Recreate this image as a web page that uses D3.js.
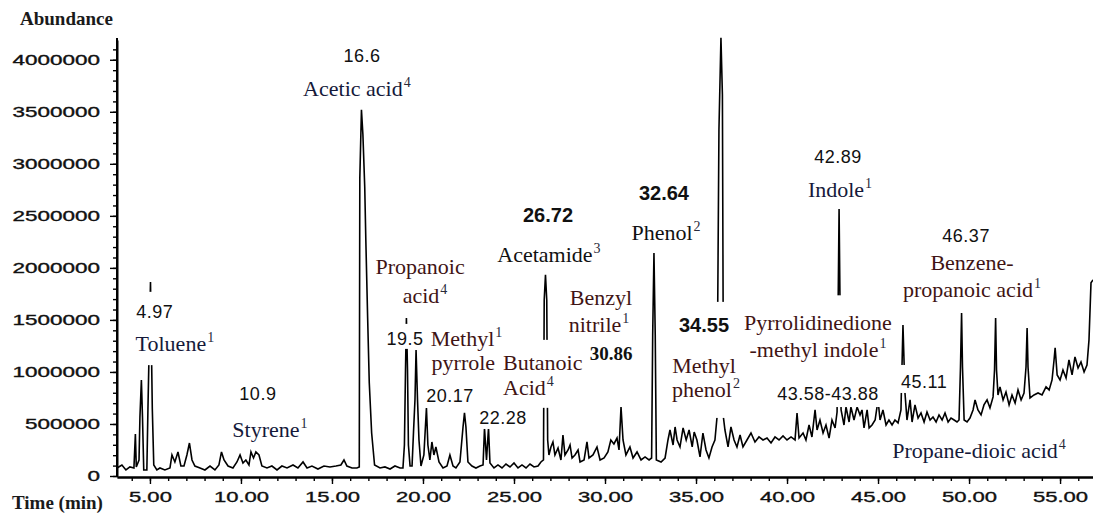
<!DOCTYPE html>
<html>
<head>
<meta charset="utf-8">
<script src="https://cdn.jsdelivr.net/npm/d3@7"></script>
<style>
  body { margin: 0; background: #fff; }
  svg { display: block; }
</style>
</head>
<body>
<div id="chart"></div>
<script>

// retention time (min) and abundance
let timeMin = [
  3.19, 3.46, 3.68, 3.90, 4.12, 4.20, 4.25, 4.40, 4.45, 4.53, 4.59, 4.66, 4.83, 4.89, 5.03, 5.13, 5.21, 5.38,
  5.55, 5.82, 6.10, 6.21, 6.37, 6.54, 6.70, 6.87, 7.03, 7.17, 7.31, 7.47, 7.75, 8.02, 8.30, 8.57, 8.79, 8.93,
  9.07, 9.29, 9.56, 9.78, 9.95, 10.11, 10.27, 10.44, 10.55, 10.69, 10.82, 10.99, 11.15, 11.43, 11.70, 11.98,
  12.25, 12.53, 12.86, 13.13, 13.41, 13.63, 13.90, 14.23, 14.56, 14.89, 15.22, 15.49, 15.66, 15.82, 16.10,
  16.37, 16.50, 16.53, 16.62, 16.70, 16.80, 16.86, 16.96, 17.05, 17.18, 17.34, 17.64, 17.91, 18.19, 18.46,
  18.74, 18.90, 18.98, 19.04, 19.09, 19.15, 19.20, 19.29, 19.40, 19.48, 19.56, 19.62, 19.70, 19.78, 19.89,
  20.05, 20.19, 20.27, 20.38, 20.49, 20.60, 20.71, 20.88, 21.10, 21.32, 21.48, 21.65, 21.81, 22.03, 22.20,
  22.28, 22.36, 22.47, 22.69, 22.91, 23.13, 23.30, 23.38, 23.49, 23.60, 23.68, 23.90, 24.12, 24.34, 24.56,
  24.78, 25.00, 25.22, 25.44, 25.66, 25.88, 26.10, 26.32, 26.48, 26.62, 26.66, 26.73, 26.80, 26.85, 26.92,
  27.03, 27.14, 27.25, 27.42, 27.58, 27.69, 27.80, 27.97, 28.08, 28.19, 28.35, 28.52, 28.63, 28.85, 29.01,
  29.12, 29.34, 29.56, 29.73, 29.95, 30.16, 30.32, 30.49, 30.66, 30.77, 30.88, 30.99, 31.15, 31.37, 31.54,
  31.76, 31.98, 32.20, 32.42, 32.56, 32.62, 32.69, 32.76, 32.82, 33.08, 33.30, 33.46, 33.57, 33.74, 33.85,
  33.96, 34.12, 34.29, 34.46, 34.62, 34.79, 34.90, 35.05, 35.22, 35.38, 35.55, 35.71, 35.88, 36.04, 36.15,
  36.26, 36.37, 36.45, 36.51, 36.59, 36.76, 36.92, 37.09, 37.25, 37.42, 37.58, 37.80, 38.02, 38.24, 38.46,
  38.68, 38.90, 39.12, 39.34, 39.56, 39.78, 40.00, 40.22, 40.44, 40.55, 40.66, 40.88, 41.04, 41.21, 41.37,
  41.54, 41.65, 41.81, 41.98, 42.14, 42.31, 42.47, 42.64, 42.75, 42.86, 42.97, 43.13, 43.24, 43.41, 43.51,
  43.68, 43.85, 44.01, 44.12, 44.23, 44.40, 44.51, 44.67, 44.84, 45.00, 45.11, 45.27, 45.44, 45.60, 45.77,
  45.93, 46.10, 46.26, 46.37, 46.48, 46.59, 46.76, 46.87, 47.03, 47.20, 47.36, 47.53, 47.69, 47.86, 48.02,
  48.19, 48.35, 48.52, 48.68, 48.85, 49.01, 49.18, 49.34, 49.45, 49.53, 49.59, 49.64, 49.73, 49.89, 50.05,
  50.22, 50.33, 50.49, 50.66, 50.82, 50.99, 51.15, 51.32, 51.40, 51.46, 51.51, 51.59, 51.70, 51.87, 52.03,
  52.20, 52.36, 52.53, 52.69, 52.86, 53.02, 53.13, 53.19, 53.24, 53.35, 53.57, 53.79, 54.01, 54.23, 54.40,
  54.56, 54.67, 54.73, 54.84, 55.00, 55.16, 55.33, 55.49, 55.66, 55.82, 55.99, 56.15, 56.32, 56.48, 56.59,
  56.70, 56.81
];

let abundance = [
  77000, 106000, 58000, 87000, 77000, 404000, 87000, 154000, 567000, 923000, 567000, 58000, 58000, 644000, 1865000, 644000, 106000, 58000,
  77000, 58000, 77000, 202000, 135000, 231000, 96000, 96000, 202000, 317000, 154000, 96000, 77000, 58000, 96000, 58000, 106000, 231000,
  154000, 96000, 77000, 135000, 202000, 125000, 154000, 106000, 231000, 173000, 231000, 202000, 96000, 77000, 96000, 58000,
  96000, 77000, 106000, 77000, 135000, 77000, 96000, 67000, 96000, 87000, 96000, 106000, 154000, 96000, 77000,
  77000, 87000, 2865000, 3519000, 3279000, 2779000, 2269000, 1519000, 894000, 413000, 106000, 77000, 87000, 67000, 96000,
  77000, 77000, 298000, 1019000, 1519000, 1019000, 298000, 96000, 96000, 423000, 731000, 1211000, 731000, 346000, 96000,
  202000, 654000, 298000, 154000, 327000, 202000, 279000, 135000, 77000, 96000, 202000, 96000, 77000, 135000, 471000,
  606000, 471000, 135000, 96000, 77000, 96000, 106000, 462000, 154000, 462000, 125000, 77000, 106000, 77000, 115000,
  87000, 125000, 77000, 106000, 77000, 115000, 87000, 96000, 135000, 154000, 1692000, 1933000, 1692000, 346000, 202000,
  279000, 327000, 202000, 269000, 154000, 394000, 202000, 250000, 298000, 173000, 202000, 250000, 135000, 154000, 327000,
  173000, 202000, 279000, 154000, 173000, 231000, 346000, 308000, 365000, 250000, 663000, 346000, 202000, 279000, 173000,
  231000, 154000, 183000, 154000, 173000, 1356000, 2144000, 1356000, 154000, 135000, 173000, 346000, 442000, 298000, 471000,
  346000, 279000, 462000, 346000, 442000, 279000, 423000, 346000, 183000, 413000, 250000, 173000, 279000, 346000, 557000,
  3327000, 4211000, 3663000, 557000, 442000, 279000, 471000, 346000, 279000, 394000, 279000, 346000, 413000, 327000, 375000,
  346000, 365000, 317000, 375000, 346000, 385000, 346000, 375000, 346000, 606000, 365000, 413000, 346000, 490000, 375000,
  635000, 442000, 538000, 413000, 490000, 365000, 538000, 462000, 615000, 2567000, 635000, 490000, 663000, 519000, 663000,
  538000, 663000, 587000, 635000, 462000, 635000, 462000, 490000, 538000, 731000, 538000, 635000, 490000, 538000, 490000,
  538000, 510000, 635000, 1452000, 798000, 538000, 731000, 519000, 683000, 557000, 606000, 519000, 615000, 538000, 567000,
  519000, 587000, 538000, 606000, 519000, 557000, 538000, 519000, 538000, 1048000, 1567000, 1048000, 538000, 519000, 557000,
  635000, 731000, 635000, 587000, 683000, 731000, 654000, 760000, 1019000, 1519000, 1019000, 779000, 856000, 731000, 808000,
  683000, 779000, 702000, 827000, 731000, 798000, 1048000, 1423000, 1048000, 750000, 779000, 798000, 779000, 856000, 827000,
  923000, 1115000, 1231000, 971000, 923000, 1019000, 942000, 1115000, 971000, 1144000, 1038000, 1096000, 1000000, 1067000, 1308000,
  1856000, 1885000
];

let xTickValues = [5, 10, 15, 20, 25, 30, 35, 40, 45, 50, 55];
let xTickLabels = ["5.00", "10.00", "15.00", "20.00", "25.00", "30.00", "35.00", "40.00", "45.00", "50.00", "55.00"];
let yTickValues = [0, 500000, 1000000, 1500000, 2000000, 2500000, 3000000, 3500000, 4000000];
let yTickLabels = ["0", "500000", "1000000", "1500000", "2000000", "2500000", "3000000", "3500000", "4000000"];

// peak annotations: text, superscript, anchor in (time, abundance)
let annotations = [
  [["16.6", "", 16.65, 3980000], ["Acetic acid", "4", 16.37, 3650000]],
  [["4.97", "", 5.27, 1520000], ["Toluene", "1", 6.37, 1200000]],
  [["10.9", "", 10.93, 730000], ["Styrene", "1", 11.59, 375000]],
  [["Propanoic", "", 19.84, 1940000], ["acid", "4", 20.11, 1660000]],
  [["19.5", "", 19.01, 1260000]],
  [["Methyl", "1", 22.39, 1250000], ["pyrrole", "", 22.22, 1020000]],
  [["20.17", "", 21.48, 710000]],
  [["22.28", "", 24.40, 500000]],
  [["Butanoic", "", 24.40, 1020000], ["Acid", "4", 24.40, 780000]],
  [["26.72", "", 26.87, 2440000], ["Acetamide", "3", 26.92, 2060000]],
  [["Benzyl", "", 29.78, 1640000], ["nitrile", "1", 29.67, 1380000]],
  [["30.86", "", 30.33, 1115000]],
  [["32.64", "", 33.24, 2650000], ["Phenol", "2", 33.35, 2270000]],
  [["34.55", "", 35.44, 1385000], ["Methyl", "", 35.44, 990000], ["phenol", "2", 35.55, 760000]],
  [["42.89", "", 42.80, 3010000], ["Indole", "1", 42.91, 2680000]],
  [["Pyrrolidinedione", "", 41.70, 1400000], ["-methyl indole", "1", 41.70, 1144000], ["43.58-43.88", "", 42.25, 730000]],
  [["45.11", "", 47.53, 846000]],
  [["46.37", "", 49.84, 2250000], ["Benzene-", "", 50.16, 1980000], ["propanoic acid", "1", 50.16, 1720000]],
  [["Propane-dioic acid", "4", 50.55, 173000]]
];

// look of each annotation (same order as above)
let navy = "#15193a", maroon = "#3f1414", ink = "#111";
let fonts = {
  num: { family: "Liberation Sans", size: 18, weight: "normal", spacing: 0.5 },
  bold: { family: "Liberation Sans", size: 20, weight: "bold", spacing: 0 },
  boldSerif: { family: "Liberation Serif", size: 19, weight: "bold", spacing: 0 },
  name: { family: "Liberation Serif", size: 22, weight: "normal", spacing: 0 }
};
let annotationStyle = [
  { pad: [2, 2], lines: [["num", ink], ["name", navy]] },
  { pad: [10, 9], lines: [["num", ink], ["name", navy]] },
  { pad: [2, 2], lines: [["num", ink], ["name", navy]] },
  { pad: [2, 2], lines: [["name", maroon], ["name", maroon]] },
  { pad: [5, 0], lines: [["num", ink]] },
  { pad: [2, 2], lines: [["name", maroon], ["name", maroon]] },
  { pad: [1, 1], lines: [["num", ink]] },
  { pad: [1, 1], lines: [["num", ink]] },
  { pad: [10, 8], anchor: "start", lines: [["name", maroon], ["name", maroon]] },
  { pad: [2, 2], lines: [["bold", ink], ["name", ink]] },
  { pad: [2, 2], lines: [["name", maroon], ["name", maroon]] },
  { pad: [1, 1], lines: [["boldSerif", ink]] },
  { pad: [2, 2], lines: [["bold", ink], ["name", ink]] },
  { pad: [12, 16], lines: [["bold", ink], ["name", maroon], ["name", maroon]] },
  { pad: [2, 2], lines: [["num", ink], ["name", navy]] },
  { pad: [15, 3], lines: [["name", maroon], ["name", maroon], ["num", ink]] },
  { pad: [7, 1], lines: [["num", ink]] },
  { pad: [2, 2], lines: [["num", ink], ["name", maroon], ["name", maroon]] },
  { pad: [2, 2], lines: [["name", navy]] }
];

function drawChromatogram() {

  let width = 1093;
  let height = 520;

  let svg = d3.select("#chart").append("svg")
  .attr("width", width)
  .attr("height", height);

  svg.append("rect")
  .attr("width", width)
  .attr("height", height)
  .attr("fill", "#ffffff");

  let x = d3.scaleLinear().domain([3.19, 56.81]).range([117, 1093]);
  let y = d3.scaleLinear().domain([0, 4190000]).range([476, 40]);

  // trace
  let points = d3.zip(timeMin, abundance);

  let line = d3.line()
  .x(function(d) { return x(d[0]); })
  .y(function(d) { return y(d[1]); });

  svg.append("path")
  .datum(points)
  .attr("d", line)
  .attr("fill", "none")
  .attr("stroke", "#000")
  .attr("stroke-width", 1.6)
  .attr("stroke-linejoin", "miter");

  // axes: minor ticks every minute / 100000, major with labels
  let xMinor = d3.range(4, 57);
  let yMinor = d3.range(0, 4200000, 100000);

  svg.append("g")
  .attr("transform", "translate(0,477)")
  .call(d3.axisBottom(x).tickValues(xMinor).tickSize(4).tickSizeOuter(0).tickFormat(""))
  .call(styleAxis);

  let xAxis = svg.append("g")
  .attr("transform", "translate(0,477)")
  .call(d3.axisBottom(x).tickValues(xTickValues).tickSize(7).tickSizeOuter(0).tickPadding(7)
    .tickFormat(function(d, i) { return xTickLabels[i]; }))
  .call(styleAxis);

  xAxis.selectAll("text")
  .attr("transform", "scale(1.47,1)");

  svg.append("g")
  .attr("transform", "translate(117,0)")
  .call(d3.axisLeft(y).tickValues(yMinor).tickSize(4).tickSizeOuter(0).tickFormat(""))
  .call(styleAxis);

  let yAxis = svg.append("g")
  .attr("transform", "translate(117,0)")
  .call(d3.axisLeft(y).tickValues(yTickValues).tickSize(7).tickSizeOuter(0)
    .tickFormat(function(d, i) { return yTickLabels[i]; }))
  .call(styleAxis);

  yAxis.selectAll("text")
  .attr("x", -17 / 1.5)
  .attr("transform", "scale(1.5,1)");

  // the y axis line runs a little above the last tick
  yAxis.select(".domain").attr("d", "M0,477V38");

  // axis titles
  svg.append("text")
  .attr("x", 20)
  .attr("y", 25)
  .attr("font-family", "Liberation Serif")
  .attr("font-weight", "bold")
  .attr("font-size", 19)
  .attr("fill", "#1a1a1a")
  .text("Abundance");

  svg.append("text")
  .attr("x", 12)
  .attr("y", 509)
  .attr("font-family", "Liberation Serif")
  .attr("font-weight", "bold")
  .attr("font-size", 19)
  .attr("fill", "#1a1a1a")
  .text("Time (min)");

  // peak annotations, each on a white box that hides the trace behind it
  annotations.forEach(function(group, gi) {
    let style = annotationStyle[gi];
    let g = svg.append("g");

    group.forEach(function(l, li) {
      let f = fonts[style.lines[li][0]];
      let txt = g.append("text")
      .attr("x", x(l[2]))
      .attr("y", y(l[3]))
      .attr("text-anchor", style.anchor || "middle")
      .attr("font-family", f.family)
      .attr("font-size", f.size)
      .attr("font-weight", f.weight)
      .attr("letter-spacing", f.spacing)
      .attr("fill", style.lines[li][1]);

      txt.append("tspan").text(l[0]);
      if (l[1]) {
        txt.append("tspan")
        .attr("font-size", 14)
        .attr("font-weight", "normal")
        .attr("dx", 1)
        .attr("dy", -9)
        .attr("fill", "#2a2a3a")
        .text(l[1]);
      }
    });

    let bb = g.node().getBBox();
    g.insert("rect", ":first-child")
    .attr("x", bb.x - 2)
    .attr("y", bb.y - style.pad[0])
    .attr("width", bb.width + 4)
    .attr("height", bb.height + style.pad[0] + style.pad[1])
    .attr("fill", "#ffffff");
  });

}

function styleAxis(g) {
  g.attr("font-family", "Liberation Sans")
  .attr("font-size", 15);
  g.select(".domain")
  .attr("stroke", "#000")
  .attr("stroke-width", 2);
  g.selectAll(".tick line")
  .attr("stroke", "#000")
  .attr("stroke-width", 1.4);
  // the instrument font is heavier than a plain regular weight
  g.selectAll(".tick text")
  .attr("fill", "#111")
  .attr("stroke", "#111")
  .attr("stroke-width", 0.35);
}

drawChromatogram();

</script>
</body>
</html>
